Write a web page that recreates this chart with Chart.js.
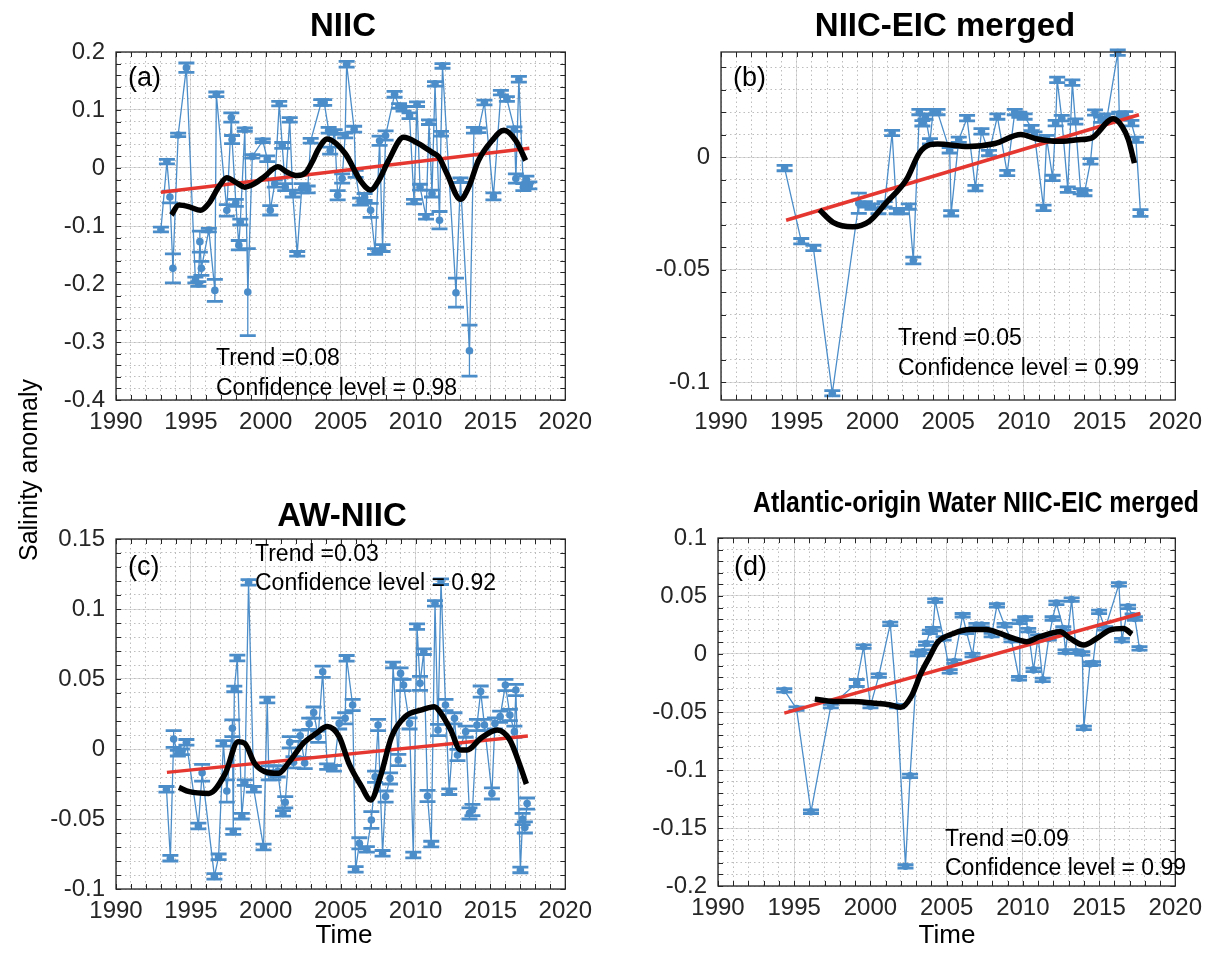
<!DOCTYPE html>
<html>
<head>
<meta charset="utf-8">
<script src="https://cdn.jsdelivr.net/npm/chart.js@4.4.1/dist/chart.umd.min.js"></script>
<style>
  body { margin: 0; background: #fff; }
  #fig { position: relative; width: 1210px; height: 970px; font-family: "Liberation Sans", Arial, Helvetica, sans-serif; color: #000; }
  #fig canvas { position: absolute; }
  .txt { position: absolute; white-space: nowrap; line-height: 1; }
  .ttl { position: absolute; width: 600px; text-align: center; font-weight: bold; line-height: 1; white-space: nowrap; }
  .note { font-size: 23px; }
  .tag { font-size: 27px; }
</style>
</head>
<body>
<div id="fig">
  <canvas id="cA" width="600" height="445" style="left:0;top:0"></canvas>
  <canvas id="cB" width="610" height="445" style="left:600px;top:0"></canvas>
  <canvas id="cC" width="600" height="450" style="left:0;top:480px"></canvas>
  <canvas id="cD" width="610" height="450" style="left:600px;top:480px"></canvas>

  <div class="ttl" style="left:43px;top:8px;font-size:33px">NIIC</div>
  <div class="ttl" style="left:645px;top:8px;font-size:33px">NIIC-EIC merged</div>
  <div class="ttl" style="left:42px;top:498px;font-size:33px">AW-NIIC</div>
  <div class="ttl" style="left:676px;top:488px;font-size:29px;transform:scaleX(0.856)">Atlantic-origin Water NIIC-EIC merged</div>

  <div class="txt" style="left:16px;top:458px;width:300px;text-align:center;font-size:25px;transform-origin:150px 12px;transform:translate(-138px,0) rotate(-90deg)">Salinity anomaly</div>
  <div class="txt" style="left:44px;top:921px;width:600px;text-align:center;font-size:26px">Time</div>
  <div class="txt" style="left:647px;top:921px;width:600px;text-align:center;font-size:26px">Time</div>

  <div class="txt tag" style="left:128px;top:64px">(a)</div>
  <div class="txt tag" style="left:733px;top:64px">(b)</div>
  <div class="txt tag" style="left:128px;top:553px">(c)</div>
  <div class="txt tag" style="left:734px;top:553px">(d)</div>

  <div class="txt note" style="left:216px;top:346px">Trend =0.08</div>
  <div class="txt note" style="left:216px;top:376px">Confidence level = 0.98</div>
  <div class="txt note" style="left:898px;top:326px">Trend =0.05</div>
  <div class="txt note" style="left:898px;top:356px">Confidence level = 0.99</div>
  <div class="txt note" style="left:255px;top:542px">Trend =0.03</div>
  <div class="txt note" style="left:255px;top:571px">Confidence level = 0.92</div>
  <div class="txt note" style="left:945px;top:827px">Trend =0.09</div>
  <div class="txt note" style="left:945px;top:856px">Confidence level = 0.99</div>
</div>

<script>
// ---------- (a) NIIC ----------
const yearsA = [
  1993.0, 1993.4, 1993.6, 1993.8, 1994.15, 1994.7, 1995.3, 1995.5, 1995.6, 1995.7,
  1996.2, 1996.6, 1996.7, 1997.4, 1997.7, 1997.75, 1998.0, 1998.2, 1998.3, 1998.6,
  1998.8, 1999.1, 1999.8, 2000.1, 2000.3, 2000.6, 2000.9, 2001.1, 2001.3, 2001.6,
  2001.8, 2002.1, 2002.4, 2002.8, 2003.0, 2003.7, 2003.9, 2004.2, 2004.3, 2004.6,
  2004.8, 2005.1, 2005.3, 2005.4, 2005.9, 2006.0, 2006.3, 2006.6, 2007.0, 2007.3,
  2007.6, 2007.8, 2008.0, 2008.6, 2008.9, 2009.2, 2009.6, 2009.9, 2010.1, 2010.3,
  2010.7, 2010.9, 2011.1, 2011.3, 2011.6, 2011.7, 2011.8, 2012.7, 2013.0, 2013.6,
  2013.9, 2014.2, 2014.6, 2015.2, 2015.7, 2016.1, 2016.6, 2016.7, 2016.9, 2017.2,
  2017.4, 2017.6
];
const salA = [
  -0.106, 0.011, -0.050, -0.173, 0.057, 0.173, -0.193, -0.200, -0.127, -0.173,
  -0.107, -0.211, 0.127, -0.073, 0.087, 0.049, -0.060, -0.133, -0.093, 0.066,
  -0.214, 0.020, 0.047, 0.016, -0.073, -0.027, 0.111, 0.039, -0.033, 0.083,
  -0.044, -0.148, -0.035, -0.037, 0.047, 0.113, 0.113, 0.065, 0.030, 0.062,
  -0.047, -0.018, 0.056, 0.179, 0.067, -0.010, -0.058, -0.050, -0.073, -0.144,
  0.047, -0.138, 0.056, 0.127, 0.107, 0.102, 0.090, -0.058, 0.110, -0.033,
  -0.084, 0.079, -0.044, 0.145, -0.090, 0.059, 0.176, -0.215, -0.021, -0.315,
  0.065, 0.065, 0.113, -0.049, 0.130, 0.119, 0.067, -0.018, 0.153, -0.033,
  -0.020, -0.030
];
const errA = [
  0.004, 0.004, 0.010, 0.025, 0.003, 0.008, 0.005, 0.004, 0.018, 0.012,
  0.003, 0.019, 0.004, 0.010, 0.008, 0.007, 0.006, 0.008, 0.005, 0.003,
  0.075, 0.003, 0.003, 0.005, 0.008, 0.006, 0.004, 0.005, 0.006, 0.004,
  0.006, 0.004, 0.008, 0.006, 0.004, 0.005, 0.005, 0.005, 0.006, 0.004,
  0.008, 0.008, 0.004, 0.005, 0.005, 0.006, 0.006, 0.006, 0.012, 0.005,
  0.008, 0.006, 0.008, 0.005, 0.004, 0.004, 0.005, 0.004, 0.004, 0.005,
  0.004, 0.004, 0.006, 0.004, 0.015, 0.004, 0.004, 0.025, 0.004, 0.044,
  0.005, 0.004, 0.004, 0.006, 0.004, 0.004, 0.004, 0.008, 0.005, 0.006,
  0.006, 0.006
];
const smoothYearsA = [1993.7, 1994.2, 1994.9, 1995.65, 1996.2, 1996.85, 1997.4, 1997.95, 1998.6, 1999.25,
  1999.9, 2000.8, 2001.4, 2002.1, 2002.7, 2003.15, 2003.5, 2004.1, 2005.3, 2006.3, 2007.0, 2007.55,
  2008.2, 2009.2, 2010.2, 2011.1, 2011.55, 2012.1, 2013.0, 2013.55, 2014.2, 2015.1, 2015.9, 2016.7, 2017.35];
const smoothA = [-0.081, -0.064, -0.067, -0.073, -0.061, -0.033, -0.017, -0.024, -0.033, -0.027,
  -0.015, 0.002, -0.007, -0.013, -0.007, 0.013, 0.032, 0.050, 0.025, -0.021, -0.038, -0.021,
  0.013, 0.053, 0.042, 0.027, 0.019, -0.010, -0.054, -0.033, 0.013, 0.047, 0.065, 0.047, 0.013];
const trendYearsA = [1993.0, 2017.6];
const trendA = [-0.042, 0.034];

// ---------- (b) NIIC-EIC merged ----------
const yearsB = [
  1994.2, 1995.3, 1996.1, 1997.35, 1999.1, 1999.5, 2000.0, 2000.4, 2000.8, 2001.3,
  2001.6, 2001.9, 2002.4, 2002.7, 2003.1, 2003.3, 2003.5, 2003.8, 2004.0, 2004.3,
  2005.1, 2005.2, 2005.7, 2006.25, 2006.8, 2007.2, 2007.7, 2008.25, 2008.9, 2009.4,
  2009.7, 2010.05, 2010.5, 2010.7, 2011.3, 2011.5, 2011.9, 2012.1, 2012.2, 2012.5,
  2012.9, 2013.2, 2013.4, 2013.75, 2014.0, 2014.4, 2014.7, 2015.1, 2015.5, 2016.2,
  2016.3, 2016.7, 2017.1, 2017.4, 2017.7
];
const salB = [
  -0.0049, -0.0374, -0.0404, -0.1050, -0.0205, -0.0210, -0.0220, -0.0240, -0.0210, 0.0107,
  -0.0240, -0.0240, -0.0220, -0.0460, 0.0200, 0.0150, 0.0180, 0.0070, 0.0200, 0.0200,
  0.0030, -0.0250, 0.0077, 0.0173, -0.0138, 0.0114, 0.0018, 0.0180, -0.0071, 0.0200,
  0.0188, 0.0180, 0.0129, 0.0100, -0.0226, 0.0084, -0.0093, 0.0151, 0.0343, 0.0173,
  -0.0145, 0.0331, 0.0158, -0.0152, -0.0160, -0.0019, 0.0198, 0.0166, 0.0180, 0.0464,
  0.0188, 0.0190, 0.0151, 0.0077, -0.0249
];
const errB = [
  0.0012, 0.0012, 0.0012, 0.0012, 0.0045, 0.0012, 0.0012, 0.0012, 0.0012, 0.0012,
  0.0012, 0.0012, 0.0012, 0.0015, 0.0012, 0.0012, 0.0012, 0.0012, 0.0012, 0.0012,
  0.0012, 0.0012, 0.0012, 0.0012, 0.0012, 0.0012, 0.0012, 0.0012, 0.0012, 0.0012,
  0.0012, 0.0012, 0.0012, 0.0012, 0.0012, 0.0012, 0.0012, 0.0012, 0.0012, 0.0012,
  0.0012, 0.0012, 0.0012, 0.0012, 0.0012, 0.0012, 0.0012, 0.0012, 0.0012, 0.0012,
  0.0012, 0.0012, 0.0012, 0.0012, 0.0015
];
const smoothYearsB = [1996.5, 1997.4, 1998.7, 1999.8, 2000.9, 2002.25, 2003.1, 2003.8, 2004.3, 2006.3,
  2008.1, 2009.8, 2010.9, 2012.25, 2013.6, 2014.45, 2015.9, 2016.5, 2016.9, 2017.3];
const smoothB = [-0.0234, -0.0290, -0.0310, -0.0285, -0.0204, -0.0100, 0.0018, 0.0055, 0.0058, 0.0047,
  0.0060, 0.0100, 0.0080, 0.0070, 0.0077, 0.0084, 0.0170, 0.0135, 0.0077, -0.0027];
const trendYearsB = [1994.3, 2017.6];
const trendB = [-0.0281, 0.0188];

// ---------- (c) AW-NIIC ----------
const yearsC = [
  1993.37, 1993.63, 1993.85, 1994.13, 1994.4, 1994.7, 1995.5, 1995.75, 1996.57, 1996.85,
  1997.17, 1997.4, 1997.77, 1997.83, 1997.9, 1998.1, 1998.4, 1998.6, 1998.85, 1999.2,
  1999.85, 2000.1, 2000.2, 2000.5, 2000.8, 2001.15, 2001.3, 2001.6, 2001.85, 2002.3,
  2002.6, 2002.9, 2003.2, 2003.5, 2003.8, 2004.1, 2004.55, 2004.9, 2005.3, 2005.4,
  2005.8, 2006.0, 2006.25, 2006.75, 2007.05, 2007.3, 2007.5, 2007.8, 2008.0, 2008.3,
  2008.5, 2008.85, 2009.0, 2009.2, 2009.6, 2009.85, 2010.1, 2010.3, 2010.55, 2010.8,
  2011.05, 2011.3, 2011.5, 2011.7, 2012.0, 2012.25, 2012.6, 2012.8, 2013.35, 2013.6,
  2013.8, 2014.1, 2014.35, 2014.6, 2015.1, 2015.3, 2015.65, 2016.0, 2016.3, 2016.6,
  2016.7, 2017.0, 2017.15, 2017.3, 2017.45
];
const salC = [
  -0.0288, -0.0780, 0.0071, -0.0030, -0.0020, 0.0048, -0.0550, -0.0170, -0.0910, -0.0770,
  0.0040, -0.0300, 0.0148, -0.0590, 0.0429, 0.0650, -0.0480, -0.0240, 0.1190, -0.0288,
  -0.0700, 0.0350, -0.0170, -0.0170, -0.0160, -0.0460, -0.0380, 0.0048, -0.0095, 0.0095,
  -0.0100, 0.0180, 0.0260, 0.0088, 0.0552, -0.0126, -0.0138, 0.0183, 0.0219, 0.0648,
  0.0314, -0.0860, -0.0674, -0.0717, -0.0507, -0.0198, 0.0171, -0.0745, -0.0340, -0.0210,
  0.0600, -0.0079, 0.0540, 0.0457, 0.0183, -0.0757, 0.0874, 0.0469, 0.0695, -0.0336,
  -0.0679, 0.1040, 0.0136, 0.1195, 0.0314, -0.0305, 0.0219, -0.0043, 0.0124, -0.0460,
  -0.0436, 0.0171, 0.0410, 0.0171, -0.0317, 0.0183, 0.0231, 0.0457, 0.0243, 0.0124,
  0.0421, -0.0864, -0.0500, -0.0560, -0.0390
];
const errC = [
  0.002, 0.002, 0.006, 0.002, 0.002, 0.002, 0.002, 0.006, 0.002, 0.002,
  0.002, 0.008, 0.006, 0.002, 0.002, 0.002, 0.002, 0.002, 0.002, 0.002,
  0.002, 0.002, 0.005, 0.005, 0.004, 0.002, 0.004, 0.004, 0.004, 0.004,
  0.004, 0.004, 0.004, 0.004, 0.004, 0.002, 0.002, 0.004, 0.004, 0.002,
  0.004, 0.002, 0.004, 0.002, 0.006, 0.004, 0.004, 0.002, 0.004, 0.004,
  0.002, 0.004, 0.004, 0.004, 0.004, 0.002, 0.002, 0.005, 0.002, 0.004,
  0.002, 0.002, 0.004, 0.002, 0.004, 0.002, 0.004, 0.004, 0.004, 0.004,
  0.004, 0.004, 0.004, 0.004, 0.004, 0.004, 0.004, 0.004, 0.004, 0.004,
  0.004, 0.002, 0.004, 0.004, 0.004
];
const smoothYearsC = [1994.2, 1994.9, 1996.2, 1997.3, 1998.15, 1998.6, 1999.25, 1999.9, 2000.85, 2001.5,
  2002.5, 2003.35, 2004.1, 2004.9, 2005.55, 2006.4, 2007.0, 2007.65, 2008.4, 2009.3,
  2010.4, 2011.25, 2011.7, 2012.35, 2013.0, 2013.45, 2014.35, 2015.45, 2016.3, 2017.0, 2017.4];
const smoothC = [-0.0274, -0.0305, -0.0317, -0.0174, 0.0052, 0.0040, -0.0102, -0.0160, -0.0174, -0.0102,
  0.0040, 0.0110, 0.0160, 0.0088, -0.0102, -0.0269, -0.0364, -0.0198, 0.0088, 0.0231,
  0.0279, 0.0302, 0.0255, 0.0136, -0.0007, -0.0007, 0.0076, 0.0136, 0.0064, -0.0126, -0.0250];
const trendYearsC = [1993.4, 2017.5];
const trendC = [-0.0167, 0.0093];

// ---------- (d) Atlantic-origin Water NIIC-EIC merged ----------
const yearsD = [
  1994.35, 1995.15, 1996.1, 1997.4, 1999.1, 1999.55, 2000.0, 2000.55, 2001.3, 2001.75,
  2002.3, 2002.6, 2003.1, 2003.45, 2003.65, 2003.9, 2004.1, 2004.25, 2004.8, 2005.2,
  2005.5, 2006.05, 2006.3, 2006.7, 2006.95, 2007.3, 2007.95, 2008.3, 2008.8, 2009.25,
  2009.75, 2009.8, 2010.15, 2010.35, 2010.7, 2011.0, 2011.3, 2011.7, 2011.95, 2012.2,
  2012.65, 2012.8, 2013.2, 2013.5, 2013.9, 2014.0, 2014.4, 2014.6, 2015.0, 2015.4,
  2016.3, 2016.5, 2016.9, 2017.2, 2017.35, 2017.65
];
const salD = [
  -0.0314, -0.0471, -0.1360, -0.0450, -0.0250, 0.0063, -0.0450, -0.0186, 0.0260, -0.0450,
  -0.1830, -0.1050, 0.0000, 0.0020, 0.0090, 0.0190, 0.0214, 0.0460, 0.0134, -0.0150,
  -0.0066, 0.0334, 0.0190, -0.0009, 0.0249, 0.0249, 0.0163, 0.0420, 0.0249, 0.0120,
  -0.0209, 0.0277, 0.0306, 0.0206, -0.0137, 0.0149, -0.0223, 0.0134, 0.0306, 0.0440,
  0.0220, 0.0020, 0.0469, 0.0020, 0.0006, -0.0637, -0.0086, -0.0080, 0.0363, 0.0220,
  0.0600, 0.0120, 0.0406, 0.0330, 0.0306, 0.0049
];
const errD = [
  0.0015, 0.0015, 0.0015, 0.0015, 0.0030, 0.0015, 0.0015, 0.0015, 0.0015, 0.0015,
  0.0015, 0.0015, 0.0015, 0.0015, 0.0015, 0.0015, 0.0015, 0.0015, 0.0015, 0.0015,
  0.0015, 0.0015, 0.0015, 0.0015, 0.0015, 0.0015, 0.0015, 0.0015, 0.0015, 0.0015,
  0.0015, 0.0015, 0.0015, 0.0015, 0.0015, 0.0015, 0.0015, 0.0015, 0.0015, 0.0015,
  0.0015, 0.0015, 0.0015, 0.0015, 0.0015, 0.0015, 0.0015, 0.0015, 0.0015, 0.0015,
  0.0015, 0.0015, 0.0015, 0.0015, 0.0015, 0.0015
];
const smoothYearsD = [1996.35, 1997.55, 1998.85, 2000.15, 2001.25, 2002.0, 2002.7, 2003.3, 2003.9, 2004.4,
  2005.45, 2006.5, 2007.6, 2008.5, 2009.4, 2010.25, 2011.1, 2012.45, 2013.1, 2014.0,
  2014.85, 2015.7, 2016.6, 2017.15];
const smoothD = [-0.0389, -0.0409, -0.0409, -0.0423, -0.0437, -0.0460, -0.0360, -0.0170, -0.0020, 0.0100,
  0.0177, 0.0211, 0.0211, 0.0177, 0.0134, 0.0106, 0.0149, 0.0191, 0.0134, 0.0077,
  0.0134, 0.0206, 0.0220, 0.0171];
const trendYearsD = [1994.35, 2017.7];
const trendD = [-0.0510, 0.0349];

// axis settings per panel
const yTicksA = { min: -0.4, max: 0.2, step: 0.1, minor: 0.02 };
const yTicksB = { min: -0.108, max: 0.0467, step: 0.05, minor: 0.01 };
const yTicksC = { min: -0.1, max: 0.15, step: 0.05, minor: 0.01 };
const yTicksD = { min: -0.2, max: 0.1, step: 0.05, minor: 0.01 };

const BLUE = "#4b8dc9";
const RED = "#e5372f";
const INK = "#262626";
Chart.defaults.font.family = '"Liberation Sans", Arial, Helvetica, sans-serif';

window.panelCharts = [];

function pairs(xs, ys) {
  return xs.map((x, i) => ({ x: x, y: ys[i] }));
}

/**
 * ERROR BARS - drawn right after the blue series so the trend/smooth lines stay on top
 */
const errorBarPlugin = {
  id: "errorBars",
  afterDatasetDraw(chart, args) {
    const ds = chart.data.datasets[args.index];
    if (!ds.errors) return;
    const ctx = chart.ctx, xs = chart.scales.x, ys = chart.scales.y;
    ctx.save();
    ctx.strokeStyle = ds.borderColor;
    ds.data.forEach((p, i) => {
      const e = ds.errors[i];
      const px = xs.getPixelForValue(p.x);
      const top = ys.getPixelForValue(p.y + e);
      const bot = ys.getPixelForValue(p.y - e);
      ctx.lineWidth = 1.3;
      ctx.beginPath();
      ctx.moveTo(px, top); ctx.lineTo(px, bot);
      ctx.stroke();
      ctx.lineWidth = 2.8;
      ctx.beginPath();
      ctx.moveTo(px - 8, top); ctx.lineTo(px + 8, top);
      ctx.moveTo(px - 8, bot); ctx.lineTo(px + 8, bot);
      ctx.stroke();
    });
    ctx.restore();
  }
};

/**
 * AXES BOX with inward ticks (matlab style)
 */
const framePlugin = {
  id: "frame",
  afterDraw(chart) {
    const a = chart.chartArea, ctx = chart.ctx;
    const xm = chart.scales.xm, ym = chart.scales.ym;
    ctx.save();
    ctx.strokeStyle = INK;
    ctx.lineWidth = 1;
    ctx.beginPath();
    xm.ticks.forEach(t => {
      const px = Math.round(xm.getPixelForValue(t.value)) + 0.5;
      ctx.moveTo(px, a.bottom); ctx.lineTo(px, a.bottom - 5);
      ctx.moveTo(px, a.top); ctx.lineTo(px, a.top + 5);
    });
    ym.ticks.forEach(t => {
      const py = Math.round(ym.getPixelForValue(t.value)) + 0.5;
      ctx.moveTo(a.left, py); ctx.lineTo(a.left + 5, py);
      ctx.moveTo(a.right, py); ctx.lineTo(a.right - 5, py);
    });
    ctx.stroke();
    ctx.lineWidth = 1.3;
    ctx.strokeRect(a.left, a.top, a.right - a.left, a.bottom - a.top);
    ctx.restore();
  }
};

function fmtTick(v) {
  return String(Math.round(v * 1000) / 1000);
}

function renderPanel(id, p) {
  const canvas = document.getElementById(id);
  const chart = new Chart(canvas, {
    type: "line",
    data: {
      datasets: [
        { data: pairs(p.smoothYears, p.smooth), borderColor: "#000", borderWidth: 5.5,
          pointRadius: 0, cubicInterpolationMode: "monotone", fill: false },
        { data: pairs(p.trendYears, p.trend), borderColor: RED, borderWidth: 3.5,
          pointRadius: 0, fill: false },
        { data: pairs(p.years, p.sal), errors: p.err, borderColor: BLUE, backgroundColor: BLUE,
          borderWidth: 1.3, pointRadius: 3.8, pointBorderWidth: 0, tension: 0, fill: false, clip: false }
      ]
    },
    options: {
      responsive: false,
      devicePixelRatio: 1,
      animation: false,
      events: [],
      layout: { padding: p.pad },
      plugins: { legend: { display: false }, tooltip: { enabled: false } },
      scales: {
        x: {
          type: "linear", position: "bottom", min: 1990, max: 2020,
          afterFit: s => { s.height = p.xH; },
          ticks: { stepSize: 5, color: INK, font: { size: 24 }, padding: 8, maxRotation: 0,
                   autoSkip: false, callback: v => String(v) },
          grid: { color: "#dcdcdc", drawTicks: false },
          border: { display: false }
        },
        xm: {
          type: "linear", position: "bottom", min: 1990, max: 2020,
          afterFit: s => { s.height = 0; },
          ticks: { stepSize: 1, display: false },
          grid: { color: "#bdbdbd", drawTicks: false },
          border: { display: false, dash: [1.5, 3] }
        },
        y: {
          type: "linear", position: "left", min: p.y.min, max: p.y.max,
          afterFit: s => { s.width = p.yW; },
          ticks: { stepSize: p.y.step, includeBounds: false, color: INK, font: { size: 24 },
                   padding: 11, callback: fmtTick },
          grid: { color: "#dcdcdc", drawTicks: false },
          border: { display: false }
        },
        ym: {
          type: "linear", position: "left", min: p.y.min, max: p.y.max,
          afterFit: s => { s.width = 0; },
          ticks: { stepSize: p.y.minor, includeBounds: false, display: false },
          grid: { color: "#bdbdbd", drawTicks: false },
          border: { display: false, dash: [1.5, 3] }
        }
      }
    },
    plugins: [errorBarPlugin, framePlugin]
  });
  window.panelCharts.push(chart);
}

/**
 * MASTER RENDER
 */
function renderAll() {
  renderPanel("cA", { years: yearsA, sal: salA, err: errA, smoothYears: smoothYearsA, smooth: smoothA,
    trendYears: trendYearsA, trend: trendA, y: yTicksA, yW: 116, xH: 45,
    pad: { left: 0, top: 52, right: 28, bottom: 0 } });
  renderPanel("cB", { years: yearsB, sal: salB, err: errB, smoothYears: smoothYearsB, smooth: smoothB,
    trendYears: trendYearsB, trend: trendB, y: yTicksB, yW: 121, xH: 45,
    pad: { left: 0, top: 52, right: 33, bottom: 0 } });
  renderPanel("cC", { years: yearsC, sal: salC, err: errC, smoothYears: smoothYearsC, smooth: smoothC,
    trendYears: trendYearsC, trend: trendC, y: yTicksC, yW: 116, xH: 41,
    pad: { left: 0, top: 59, right: 28, bottom: 0 } });
  renderPanel("cD", { years: yearsD, sal: salD, err: errD, smoothYears: smoothYearsD, smooth: smoothD,
    trendYears: trendYearsD, trend: trendD, y: yTicksD, yW: 118, xH: 44,
    pad: { left: 0, top: 58, right: 34, bottom: 0 } });
}

renderAll();
</script>
</body>
</html>
